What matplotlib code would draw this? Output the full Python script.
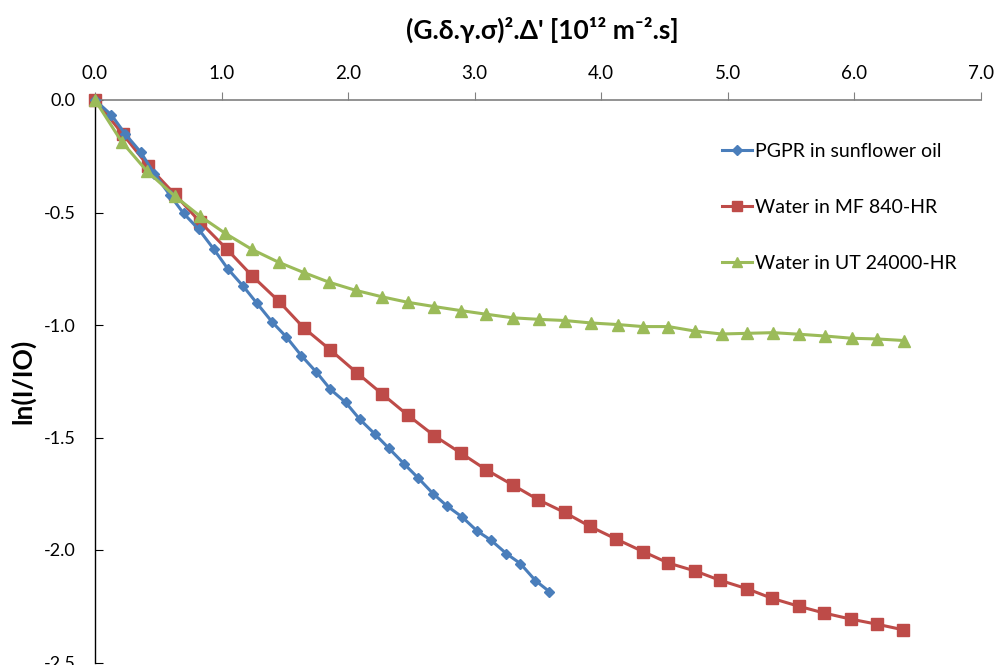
import matplotlib
matplotlib.use("Agg")
from matplotlib import pyplot as plt

plt.rcParams['font.family'] = ['Lato', 'DejaVu Sans']
plt.rcParams['axes.unicode_minus'] = False

# PGPR in sunflower oil
x_pgpr = [0, 0.13, 0.24, 0.36, 0.47, 0.59, 0.70, 0.82, 0.94, 1.05, 1.17, 1.28,
          1.40, 1.51, 1.63, 1.75, 1.86, 1.98, 2.09, 2.21, 2.32, 2.44, 2.55, 2.67,
          2.78, 2.90, 3.02, 3.13, 3.25, 3.36, 3.48, 3.59]
y_pgpr = [0, -0.067, -0.152, -0.231, -0.329, -0.421, -0.504, -0.575, -0.664, -0.751,
          -0.827, -0.904, -0.987, -1.052, -1.136, -1.210, -1.286, -1.344, -1.418,
          -1.484, -1.547, -1.616, -1.678, -1.749, -1.804, -1.853, -1.916, -1.957,
          -2.016, -2.060, -2.136, -2.185]

# Water in MF 840-HR
x_mf = [0, 0.22, 0.42, 0.63, 0.83, 1.04, 1.24, 1.45, 1.65, 1.86, 2.07, 2.27, 2.47,
        2.68, 2.89, 3.09, 3.30, 3.50, 3.71, 3.91, 4.12, 4.33, 4.53, 4.74, 4.94, 5.15,
        5.35, 5.56, 5.76, 5.97, 6.18, 6.38]
y_mf = [0, -0.152, -0.293, -0.419, -0.542, -0.662, -0.781, -0.893, -1.013, -1.111,
        -1.213, -1.307, -1.400, -1.492, -1.569, -1.643, -1.711, -1.776, -1.833,
        -1.895, -1.952, -2.007, -2.058, -2.093, -2.135, -2.172, -2.215, -2.250,
        -2.280, -2.307, -2.330, -2.354]

# Water in UT 24000-HR
x_ut = [0, 0.21, 0.41, 0.63, 0.83, 1.03, 1.24, 1.45, 1.65, 1.85, 2.06, 2.27, 2.47,
        2.68, 2.89, 3.09, 3.30, 3.51, 3.71, 3.92, 4.13, 4.33, 4.53, 4.74, 4.95, 5.15,
        5.36, 5.56, 5.77, 5.98, 6.18, 6.39]
y_ut = [0, -0.185, -0.316, -0.427, -0.516, -0.593, -0.664, -0.721, -0.767, -0.810,
        -0.846, -0.875, -0.899, -0.918, -0.936, -0.952, -0.968, -0.975, -0.980,
        -0.991, -0.998, -1.007, -1.007, -1.027, -1.040, -1.037, -1.034, -1.041,
        -1.049, -1.059, -1.062, -1.069]

x_ticks = [0, 1, 2, 3, 4, 5, 6, 7]
y_ticks = [0, -0.5, -1.0, -1.5, -2.0, -2.5]

fig = plt.figure(figsize=(9.95, 6.65), dpi=100)
ax = fig.add_axes([95 / 995, 1 - 662.5 / 665, 886 / 995, 562.5 / 665])

ax.plot(x_pgpr, y_pgpr, color='#4A7EBB', lw=2.2, marker='D', ms=5.5,
        label='PGPR in sunflower oil', clip_on=False, zorder=3)
ax.plot(x_mf, y_mf, color='#BE4B48', lw=2.2, marker='s', ms=8,
        label='Water in MF 840-HR', clip_on=False, zorder=2)
ax.plot(x_ut, y_ut, color='#9BBB59', lw=2.2, marker='^', ms=8.5,
        label='Water in UT 24000-HR', clip_on=False, zorder=4)

ax.set_xlim(0, 7)
ax.set_ylim(-2.5, 0)
ax.set_xticks(x_ticks)
ax.set_xticklabels(['%.1f' % v for v in x_ticks], fontsize=13.5)
ax.set_yticks(y_ticks)
ax.set_yticklabels(['%.1f' % v for v in y_ticks], fontsize=13)
ax.xaxis.tick_top()
ax.tick_params(axis='x', direction='out', length=6, color='#808080', pad=7)
ax.tick_params(axis='y', direction='in', length=6, color='#000000', pad=14)

ax.spines['right'].set_visible(False)
ax.spines['bottom'].set_visible(False)
ax.spines['top'].set_color('#808080')
ax.spines['top'].set_linewidth(1.2)
ax.spines['left'].set_color('#000000')
ax.spines['left'].set_linewidth(1.0)

fig.text(542 / 995, 1 - 30 / 665, "(G.δ.γ.σ)².Δ' [10¹² m⁻².s]",
         ha='center', va='center', fontsize=19, fontweight='bold')
fig.text(23 / 995, 1 - 381 / 665, 'ln(I/IO)', rotation=90,
         ha='center', va='center', fontsize=19, fontweight='bold')

ax.legend(loc='upper left', bbox_to_anchor=(722 / 995, 1 - 143 / 665),
          bbox_transform=fig.transFigure, frameon=False, fontsize=14,
          labelspacing=2.0, handlelength=1.55, handletextpad=0.15,
          markerscale=0.85, borderpad=0, borderaxespad=0)

fig.savefig('out.png', dpi=100)
